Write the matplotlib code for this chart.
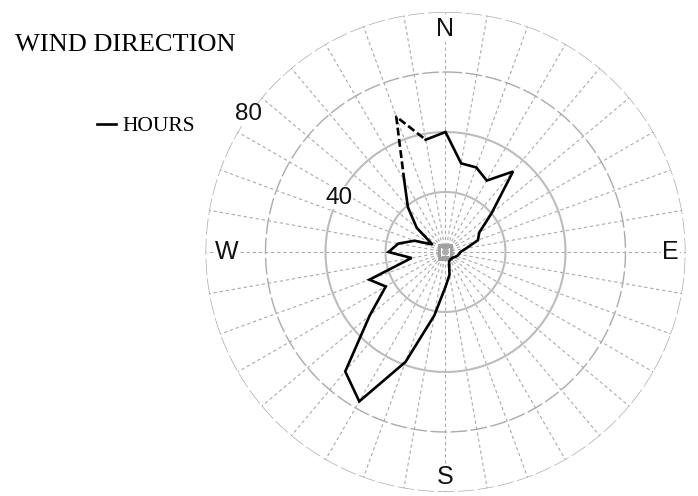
import numpy as np
import matplotlib.pyplot as plt

# wind rose data: compass direction (deg) and hours
directions = [0, 10, 20, 30, 40, 50, 60, 70, 80, 90, 100, 110,
              120, 130, 140, 150, 160, 170, 180, 190, 200, 210, 220, 230,
              240, 250, 260, 270, 280, 290, 300, 310, 320, 330, 340, 350]
hours = [40, 30, 30, 27.5, 35, 20, 13, 11.5, 7, 5, 4.5, 4,
         3.5, 3, 3, 3, 3.5, 7.7, 11.6, 21.5, 39, 57.5, 52, 33,
         23, 27, 11.5, 19, 16, 11, 5, 12.5, 19.5, 27.5, 48, 38]
rings = [20, 40, 60, 80]
ring_labels = ['40', '80']
compass = ['N', 'E', 'S', 'W']

fig = plt.figure(figsize=(6.98, 4.96), dpi=100)
ax = fig.add_axes([0.2944, 0.0081, 0.6877, 0.9677], projection='polar')
ax.set_theta_zero_location('N')
ax.set_theta_direction(-1)
ax.set_ylim(0, 80)
ax.set_axis_off()

grid_col = '#ababab'
# spokes every 10 degrees
for d in directions:
    t = np.radians(d)
    ax.plot([t, t], [0, 80], color=grid_col, lw=0.8, ls=(0, (3, 2.5)), zorder=1)

# rings
circ = np.linspace(0, 2 * np.pi, 721)
for r in rings:
    if r <= 40:
        ax.plot(circ, np.full_like(circ, r), color='#bcbcbc', lw=1.5, zorder=1)
    else:
        ax.plot(circ, np.full_like(circ, r), color=grid_col, lw=1.0,
                ls=(0, (12, 2.5)), zorder=1)

# centre marker
ax.plot([0], [0], marker='s', ms=8, mfc='none', mec='#a0a0a0', mew=2.2, zorder=2)

# ring labels
for lab, ang in zip(ring_labels, [297, 305]):
    ax.text(np.radians(ang), float(lab), lab, ha='center', va='center',
            fontsize=17.5, family='Liberation Sans', color='#111111',
            bbox=dict(fc='white', ec='none', pad=0.5), zorder=3)

# compass labels
for lab, ang, rr in zip(compass, [0, 90, 180, 270], [74.2, 75, 75, 72.8]):
    ax.text(np.radians(ang), rr, lab, ha='center', va='center',
            fontsize=18, family='Liberation Sans', color='#111111',
            bbox=dict(fc='white', ec='none', pad=0.5), zorder=3)

# hours line
th = np.radians(directions)
hv = np.array(hours)
solid_idx = [35] + list(range(0, 34))
dash_idx = [33, 34, 35]
ax.plot(th[solid_idx], hv[solid_idx], color='black', lw=1.9, zorder=4,
        solid_joinstyle='miter', label='HOURS')
ax.plot(th[dash_idx], hv[dash_idx], color='black', lw=1.9, ls=(0, (3, 1.3)),
        zorder=4)

fig.text(15 / 698, 1 - 51 / 496, 'WIND DIRECTION', va='baseline', ha='left',
         fontsize=19, family='Liberation Serif', color='black')

fig.legend(loc='center left', bbox_to_anchor=(97 / 698, 1 - 126 / 496),
           frameon=False, prop={'family': 'Liberation Serif', 'size': 15.5},
           handlelength=0.9, handletextpad=0.3, borderpad=0, borderaxespad=0)

fig.savefig('out.png', dpi=100)
